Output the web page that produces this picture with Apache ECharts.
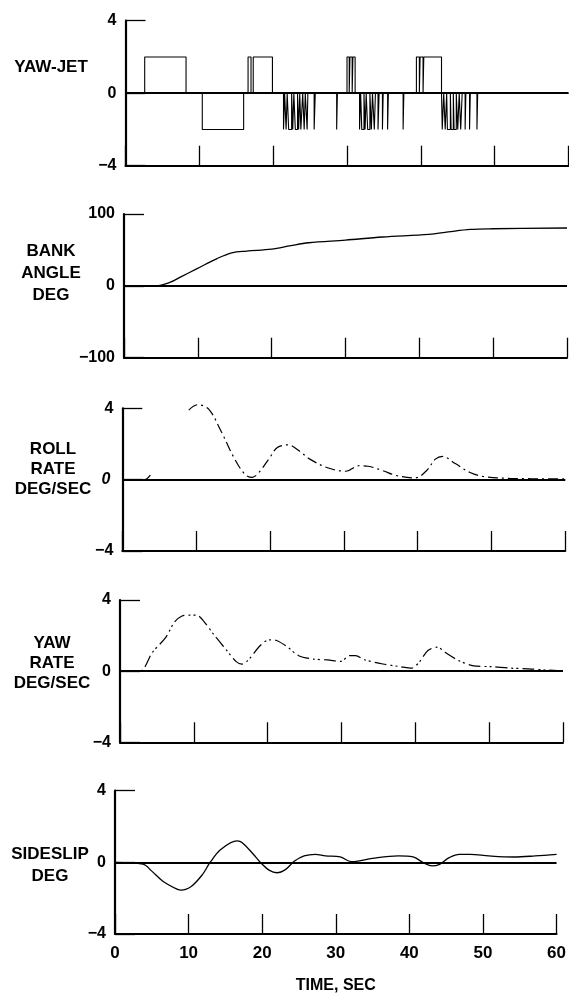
<!DOCTYPE html>
<html>
<head>
<meta charset="utf-8">
<script src="https://cdn.jsdelivr.net/npm/echarts@6/dist/echarts.min.js"></script>
<style>
  html, body { margin: 0; padding: 0; background: #fff; }
  #chart { width: 569px; height: 999px; }
</style>
</head>
<body>
<div id="chart"></div>
<script>
// ---- Recorded time histories (time in seconds) ----

// Yaw-jet firing: [start, end, command level]
const yawJetPulses = [
  [2.6, 8.2, 2],
  [10.4, 16.0, -2],
  [16.6, 17.0, 2], [17.3, 19.9, 2],
  [21.4, 21.55, -2], [21.75, 21.9, -2], [22.1, 22.5, -2], [22.65, 22.8, -2],
  [23.0, 23.3, -2], [23.45, 23.6, -2], [23.75, 24.0, -2], [24.2, 24.35, -2],
  [24.6, 24.7, -2], [25.55, 25.7, -2],
  [28.6, 28.7, -2],
  [30.0, 30.3, 2], [30.4, 30.7, 2], [30.8, 31.1, 2],
  [31.7, 31.85, -2], [32.0, 32.3, -2], [32.45, 32.6, -2], [32.8, 33.1, -2],
  [33.3, 33.45, -2], [33.7, 33.85, -2], [34.2, 34.35, -2], [34.8, 34.9, -2],
  [35.5, 35.6, -2],
  [37.6, 37.7, -2],
  [39.4, 39.8, 2], [39.9, 40.3, 2], [40.4, 42.8, 2],
  [42.9, 43.1, -2], [43.3, 43.5, -2], [43.6, 44.0, -2], [44.1, 44.4, -2],
  [44.5, 44.8, -2], [45.0, 45.2, -2], [45.4, 45.6, -2], [46.0, 46.1, -2],
  [46.6, 46.7, -2], [47.6, 47.7, -2]
];

const bankTime = [0, 4.3, 6.2, 7.7, 9.9, 12.6, 14.6, 16.6, 20, 22.6, 25, 30, 35, 41.3, 43.9, 46.9, 50, 60];
const bankAngle = [0, 0, 4.7, 12.5, 24, 38, 46, 48.4, 51, 56, 60, 63.7, 68, 71.6, 75, 78.6, 79.5, 80.5];

// null marks the stretch where the trace is not inked
const rollTime = [0, 3.0, 3.8, 6.4, 9.0, 10.2, 11.7, 13.4, 15.1, 16.6, 17.6, 18.5, 20, 21, 22.5, 24, 25.4, 27.9,
  30.3, 32, 33.3, 35.3, 37.2, 39.7, 41.2, 42.4, 43.4, 45.1, 47.1, 49, 52.5, 60];
const rollRate = [0, 0, 0.25, null, 3.9, 4.2, 3.95, 2.7, 1.25, 0.3, 0.13, 0.4, 1.25, 1.8, 1.95, 1.6, 1.15, 0.65,
  0.47, 0.78, 0.75, 0.5, 0.22, 0.1, 0.5, 1.15, 1.3, 0.9, 0.4, 0.17, 0.07, 0.04];

const yawTime = [0, 2.7, 4.4, 6.2, 7.4, 8.4, 9.4, 10.4, 11.4, 12.8, 14.3, 15.7, 16.5, 17.3, 19, 20.2, 21.2, 22.7,
  24.2, 26.2, 28.1, 29.9, 31.1, 31.9, 33.1, 35.6, 38, 39.5, 40.5, 41.7, 43, 44, 45.9, 47.9, 50.4, 52.8, 55.3, 57.8, 60];
const yawRate = [0, 0, 1.06, 1.9, 2.77, 3.1, 3.15, 3.15, 2.77, 2.0, 1.25, 0.55, 0.4, 0.59, 1.44, 1.76, 1.72, 1.35,
  0.87, 0.68, 0.63, 0.55, 0.87, 0.87, 0.64, 0.4, 0.25, 0.17, 0.49, 1.16, 1.35, 1.06, 0.59, 0.3, 0.25, 0.17, 0.13, 0.06, 0.02];

const slipTime = [0, 3.8, 5, 6.5, 8.5, 9, 10.4, 11.9, 12.9, 14.4, 16.6, 17.3, 18.8, 19.8, 21, 22, 23.2, 24.4, 25.7,
  27.2, 28.6, 30.6, 32.1, 33, 35, 38.5, 40.5, 41.9, 43.1, 44.1, 45.4, 46.8, 48.3, 50.8, 54.2, 57.1, 60];
const sideslip = [0, -0.1, -0.49, -1.05, -1.51, -1.55, -1.33, -0.67, -0.02, 0.73, 1.2, 1.1, 0.45, -0.02, -0.45, -0.58,
  -0.39, 0.07, 0.36, 0.45, 0.36, 0.3, 0.04, 0.07, 0.22, 0.36, 0.3, -0.02, -0.2, -0.11, 0.26, 0.45, 0.45, 0.36, 0.3, 0.36, 0.45];

// Axis ticks
const timeTicks = [0, 10, 20, 30, 40, 50, 60];
const rateTicks = [-4, 0, 4];
const bankTicks = [-100, 0, 100];

// Panel captions
const panelTitles = ['YAW-JET', 'BANK\nANGLE\nDEG', 'ROLL\nRATE\nDEG/SEC', 'YAW\nRATE\nDEG/SEC', 'SIDESLIP\nDEG'];
const timeAxisName = 'TIME, SEC';

// ---- Layout ----
const FONT = '"Liberation Sans", Arial, Helvetica, sans-serif';
const panels = [
  { left: 125.5, top: 20.7, height: 145, ticks: rateTicks, titleX: 51, titleY: 67, lh: 20 },
  { left: 124, top: 214, height: 143.7, ticks: bankTicks, titleX: 51, titleY: 273, lh: 22 },
  { left: 122.3, top: 408.3, height: 142.7, ticks: rateTicks, titleX: 53, titleY: 469, lh: 20 },
  { left: 120, top: 600, height: 142.3, ticks: rateTicks, titleX: 52, titleY: 663, lh: 20 },
  { left: 115, top: 790.7, height: 143.3, ticks: rateTicks, titleX: 50, titleY: 865, lh: 22 }
];
const PLOT_W = 443;

function pairs(xs, ys) {
  return xs.map((x, i) => [x, ys[i] === null ? '-' : ys[i]]);
}

function jetTrace(pulses) {
  const pts = [[0, 0]];
  pulses.forEach(([s, e, lvl]) => {
    pts.push([s, 0], [s, lvl], [e, lvl], [e, 0]);
  });
  pts.push([timeTicks[timeTicks.length - 1], 0]);
  return pts;
}

const zeroLine = {
  symbol: 'none',
  silent: true,
  label: { show: false },
  lineStyle: { color: '#000', width: 1.8, type: 'solid' },
  data: [{ yAxis: 0 }]
};

const grids = [], xAxes = [], yAxes = [];
panels.forEach((p, i) => {
  grids.push({ left: p.left, top: p.top, width: PLOT_W, height: p.height });
  const last = i === panels.length - 1;
  xAxes.push({
    gridIndex: i, type: 'value',
    min: timeTicks[0], max: timeTicks[timeTicks.length - 1], interval: timeTicks[1] - timeTicks[0],
    axisLine: { onZero: false, lineStyle: { color: '#000', width: 2 } },
    axisTick: { inside: true, length: 20, lineStyle: { color: '#000', width: 1.3 } },
    axisLabel: {
      show: last, showMinLabel: true, showMaxLabel: true, margin: 11,
      color: '#000', fontFamily: FONT, fontWeight: 'bold', fontSize: 17
    },
    splitLine: { show: false },
    name: last ? timeAxisName : '',
    nameLocation: 'middle', nameGap: 44,
    nameTextStyle: { color: '#000', fontFamily: FONT, fontWeight: 'bold', fontSize: 16 }
  });
  const t = p.ticks;
  yAxes.push({
    gridIndex: i, type: 'value',
    min: t[0], max: t[t.length - 1], interval: t[1] - t[0],
    axisLine: { show: true, onZero: false, lineStyle: { color: '#000', width: 2.2 } },
    axisTick: { show: true, inside: true, length: 20, lineStyle: { color: '#000', width: 1.3 } },
    axisLabel: {
      showMinLabel: true, showMaxLabel: true, margin: 9,
      color: '#000', fontFamily: FONT, fontWeight: 'bold', fontSize: 16,
      formatter: v => (v < 0 ? '\u2212' + Math.abs(v) : (i === 2 && v === 0 ? '{it|0}' : String(v))),
      rich: { it: { fontStyle: 'italic', fontFamily: FONT, fontWeight: 'bold', fontSize: 16, color: '#000', padding: [0, 3, 0, 0] } }
    },
    splitLine: { show: false }
  });
});

const lineBase = { type: 'line', symbol: 'none', animation: false, silent: true, clip: false };

const series = [
  Object.assign({}, lineBase, {
    name: 'YAW-JET', xAxisIndex: 0, yAxisIndex: 0,
    data: jetTrace(yawJetPulses),
    lineStyle: { color: '#000', width: 1.1 },
    markLine: zeroLine
  }),
  Object.assign({}, lineBase, {
    name: 'BANK ANGLE', xAxisIndex: 1, yAxisIndex: 1,
    data: pairs(bankTime, bankAngle), smooth: 0.35,
    lineStyle: { color: '#000', width: 1.3 },
    markLine: zeroLine
  }),
  Object.assign({}, lineBase, {
    name: 'ROLL RATE', xAxisIndex: 2, yAxisIndex: 2,
    data: pairs(rollTime, rollRate), smooth: 0.35, connectNulls: false,
    lineStyle: { color: '#000', width: 1.2, type: [10, 4, 2, 4] },
    markLine: zeroLine
  }),
  Object.assign({}, lineBase, {
    name: 'YAW RATE', xAxisIndex: 3, yAxisIndex: 3,
    data: pairs(yawTime, yawRate), smooth: 0.3,
    lineStyle: { color: '#000', width: 1.2, type: [12, 4, 2, 3, 2, 4] },
    markLine: zeroLine
  }),
  Object.assign({}, lineBase, {
    name: 'SIDESLIP', xAxisIndex: 4, yAxisIndex: 4,
    data: pairs(slipTime, sideslip), smooth: 0.35,
    lineStyle: { color: '#000', width: 1.3 },
    markLine: zeroLine
  })
];

const graphic = panels.map((p, i) => ({
  type: 'text', silent: true,
  style: {
    text: panelTitles[i], x: p.titleX, y: p.titleY,
    textAlign: 'center', textVerticalAlign: 'middle',
    fill: '#000', font: 'bold 17px ' + FONT, lineHeight: p.lh
  }
}));

const chart = echarts.init(document.getElementById('chart'), null, { renderer: 'canvas' });
chart.setOption({
  animation: false,
  backgroundColor: '#fff',
  grid: grids,
  xAxis: xAxes,
  yAxis: yAxes,
  series: series,
  graphic: graphic
});
</script>
</body>
</html>
